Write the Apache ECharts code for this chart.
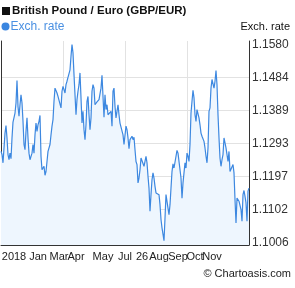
<!DOCTYPE html>
<html>
<head>
<meta charset="utf-8">
<script src="https://cdn.jsdelivr.net/npm/echarts@6/dist/echarts.min.js"></script>
<style>
html,body{margin:0;padding:0;background:#fff;}
#chart{width:295px;height:288px;}
</style>
</head>
<body>
<div id="chart"></div>
<script>
// GBP/EUR exchange rate, one point per trading day
var rates = [
1.1270,1.1261,1.1237,1.1280,1.1323,1.1345,1.1309,1.1261,1.1246,1.1265,
1.1249,1.1309,1.1355,1.1352,1.1381,1.1410,1.1475,1.1400,1.1372,1.1405,
1.1434,1.1410,1.1357,1.1290,1.1275,1.1328,1.1367,1.1309,1.1265,1.1246,
1.1241,1.1265,1.1290,1.1265,1.1318,1.1352,1.1328,1.1347,1.1357,1.1374,
1.1256,1.1217,1.1212,1.1227,1.1201,1.1212,1.1241,1.1270,1.1275,1.1290,
1.1318,1.1343,1.1362,1.1415,1.1453,1.1452,1.1439,1.1429,1.1425,1.1434,
1.1396,1.1444,1.1458,1.1463,1.1439,1.1463,1.1473,1.1473,1.1478,1.1506,
1.1545,1.1579,1.1555,1.1492,1.1434,1.1376,1.1420,1.1444,1.1463,1.1497,
1.1425,1.1352,1.1386,1.1333,1.1304,1.1347,1.1415,1.1429,1.1376,1.1333,
1.1367,1.1444,1.1463,1.1453,1.1405,1.1400,1.1413,1.1417,1.1420,1.1420,
1.1453,1.1490,1.1429,1.1369,1.1434,1.1391,1.1405,1.1376,1.1381,1.1372,
1.1386,1.1343,1.1444,1.1453,1.1400,1.1367,1.1372,1.1405,1.1376,1.1352,
1.1352,1.1347,1.1318,1.1290,1.1290,1.1343,1.1333,1.1309,1.1278,1.1304,
1.1309,1.1314,1.1304,1.1311,1.1275,1.1241,1.1232,1.1179,1.1193,1.1217,
1.1251,1.1251,1.1256,1.1227,1.1222,1.1256,1.1237,1.1198,1.1164,1.1097,
1.1145,1.1188,1.1208,1.1193,1.1169,1.1150,1.1145,1.1155,1.1145,1.1116,
1.1073,1.1049,1.1044,1.1012,1.1077,1.1145,1.1150,1.1106,1.1087,1.1116,
1.1164,1.1212,1.1234,1.1222,1.1227,1.1256,1.1273,1.1265,1.1265,1.1261,
1.1193,1.1135,1.1179,1.1208,1.1237,1.1222,1.1265,1.1256,1.1241,1.1290,
1.1381,1.1415,1.1447,1.1425,1.1376,1.1357,1.1391,1.1391,1.1367,1.1347,
1.1323,1.1314,1.1316,1.1299,1.1280,1.1256,1.1237,1.1280,1.1386,1.1396,
1.1453,1.1478,1.1482,1.1453,1.1473,1.1504,1.1463,1.1376,1.1309,1.1251,
1.1227,1.1246,1.1261,1.1309,1.1309,1.1280,1.1275,1.1241,1.1270,1.1212,
1.1217,1.1217,1.1232,1.1208,1.1131,1.1063,1.1135,1.1135,1.1126,1.1121,
1.1102,1.1068,1.1145,1.1157,1.1140,1.1121,1.1068,1.1155,1.1164
];
// x-axis tick labels and the day index where each one sits
var xLabelText = ['2018','Jan','Mar','Apr','May','Jul','26','Aug','Sep','Oct','Nov'];
var xLabelDay  = [13, 37, 58, 75, 102, 124, 141, 158, 177, 194, 211];
// y-axis tick labels
var yTickLabels = ['1.1006','1.1102','1.1197','1.1293','1.1389','1.1484','1.1580'];
var yGridValues = ['1.1102','1.1197','1.1293','1.1389','1.1484'];
var seriesName = 'Exch. rate';
var titleText = 'British Pound / Euro (GBP/EUR)';

var days = rates.map(function (_, i) { return String(i); });
var lastDay = String(rates.length - 1);
var labelMap = {};
xLabelDay.forEach(function (d, i) { labelMap[String(d)] = xLabelText[i]; });
var yMin = 1.09994, yMax = 1.15893;
var FONT = 'Liberation Sans, Arial, sans-serif';

var chart = echarts.init(document.getElementById('chart'), null, {renderer: 'canvas'});
chart.setOption({
  animation: false,
  backgroundColor: '#ffffff',
  textStyle: {fontFamily: FONT},
  title: {
    text: titleText,
    left: 12, top: 5, padding: 0,
    textStyle: {fontFamily: FONT, fontSize: 11.5, fontWeight: 'bold', color: '#111'}
  },
  legend: {
    data: [seriesName],
    left: 1.5, top: 20.5, padding: 0,
    icon: 'circle', itemWidth: 8, itemHeight: 8,
    itemStyle: {color: '#3a86e0'},
    textStyle: {fontFamily: FONT, fontSize: 12, color: '#4a90e2', padding: [0, 0, 0, -4]}
  },
  graphic: [
    {type: 'rect', left: 2, top: 7, shape: {width: 8, height: 8}, style: {fill: '#111'}},
    {type: 'text', right: 5, top: 21, style: {text: 'Exch. rate', font: '11px ' + FONT, fill: '#111'}},
    {type: 'text', right: 4, top: 268, style: {text: '\u00A9 Chartoasis.com', font: '11px ' + FONT, fill: '#222'}}
  ],
  grid: {left: 1, right: 46, top: 41, bottom: 43, containLabel: false, outerBoundsMode: 'none'},
  xAxis: {
    type: 'category',
    data: days,
    boundaryGap: false,
    axisLine: {show: true, lineStyle: {color: '#333', width: 1}},
    axisTick: {show: false},
    axisLabel: {
      show: true,
      interval: function (idx, val) {
        var k = String(val);
        return labelMap.hasOwnProperty(k) || k === lastDay;
      },
      formatter: function (v) { return labelMap[String(v)] || ''; },
      showMinLabel: true, showMaxLabel: true,
      fontFamily: FONT, fontSize: 11, color: '#222', margin: 6, hideOverlap: false
    },
    splitLine: {
      show: true,
      interval: function (idx) { return idx === 62 || idx === 124 || idx === 186; },
      lineStyle: {color: '#e2e2e2', width: 1}
    }
  },
  yAxis: [{
    type: 'value',
    position: 'right',
    min: yMin, max: yMax,
    axisLine: {show: true, onZero: false, lineStyle: {color: '#333', width: 1}},
    axisTick: {show: false, customValues: yGridValues.map(Number)},
    axisLabel: {
      show: true,
      customValues: yTickLabels.map(Number),
      formatter: function (v) { return v.toFixed(4); },
      fontFamily: FONT, fontSize: 12, color: '#333', margin: 3
    },
    splitLine: {show: true, lineStyle: {color: '#e2e2e2', width: 1}}
  }, {
    type: 'value',
    position: 'left',
    min: yMin, max: yMax,
    axisLine: {show: true, onZero: false, lineStyle: {color: '#333', width: 1}},
    axisTick: {show: false},
    axisLabel: {show: false},
    splitLine: {show: false}
  }],
  series: [{
    name: seriesName,
    type: 'line',
    yAxisIndex: 0,
    data: rates,
    showSymbol: false,
    symbol: 'none',
    smooth: false,
    lineStyle: {color: '#3d88e0', width: 1.2},
    itemStyle: {color: '#3a86e0'},
    areaStyle: {color: '#eef6fe', opacity: 1, origin: 'start'}
  }]
});
</script>
</body>
</html>
